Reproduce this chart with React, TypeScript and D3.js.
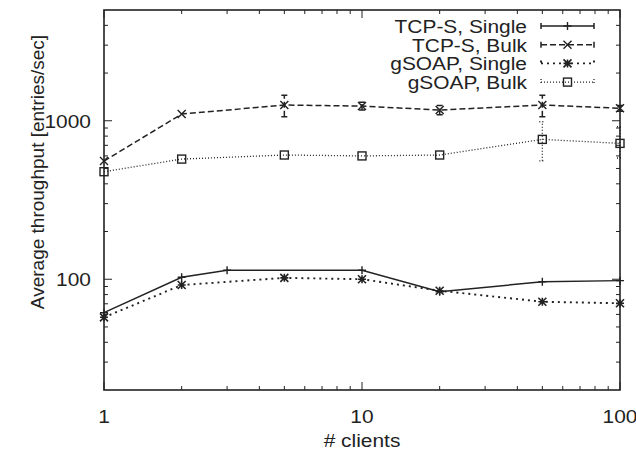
import * as d3 from "d3";

const W = 636;
const H = 453;

// data
const tcpSingle = [
  { x: 1, y: 61.5 }, { x: 2, y: 103 }, { x: 3, y: 114 }, { x: 10, y: 114 },
  { x: 20, y: 83.4 }, { x: 50, y: 96.4 }, { x: 100, y: 98 }
];
const tcpBulk = [
  { x: 1, y: 557 }, { x: 2, y: 1102 }, { x: 5, y: 1257 }, { x: 10, y: 1238 },
  { x: 20, y: 1168 }, { x: 50, y: 1257 }, { x: 100, y: 1198 }
];
const soapSingle = [
  { x: 1, y: 57.5 }, { x: 2, y: 91.9 }, { x: 5, y: 102 }, { x: 10, y: 100 },
  { x: 20, y: 84.6 }, { x: 50, y: 72.1 }, { x: 100, y: 70.5 }
];
const soapBulk = [
  { x: 1, y: 477 }, { x: 2, y: 573 }, { x: 5, y: 608 }, { x: 10, y: 600 },
  { x: 20, y: 608 }, { x: 50, y: 763 }, { x: 100, y: 720 }
];
// error bars [x, low, high]
const tcpBulkErr = [[5, 1060, 1450], [10, 1170, 1310], [20, 1090, 1250], [50, 1060, 1450], [100, 1150, 1250]];
const soapBulkErr = [[50, 559, 986], [100, 582, 917]];

const xTicks = [1, 10, 100];
const yTicks = [100, 1000];
const legendLabels = ["TCP-S, Single", "TCP-S, Bulk", "gSOAP, Single", "gSOAP, Bulk"];

const m = { left: 104, right: 620, top: 10, bottom: 390 };
const ink = "#222";
const font = "'Liberation Sans', Arial, sans-serif";
const fs = 19;

// text is slightly wider than tall in the reference
function Label({ x, y, anchor, children }: { x: number; y: number; anchor: string; children: any }) {
  return (
    <text transform={`translate(${x},${y}) scale(1.1,1)`} dy="0.36em" fontSize={fs} textAnchor={anchor} fill={ink}>
      {children}
    </text>
  );
}

function Marker({ kind, x, y }: { kind: string; x: number; y: number }) {
  const s = 4;
  if (kind === "plus")
    return <path d={`M${x - s},${y}H${x + s}M${x},${y - s}V${y + s}`} stroke={ink} strokeWidth={1.4} />;
  if (kind === "cross")
    return <path d={`M${x - s},${y - s}L${x + s},${y + s}M${x - s},${y + s}L${x + s},${y - s}`} stroke={ink} strokeWidth={1.4} />;
  if (kind === "star")
    return <path d={`M${x - s},${y}H${x + s}M${x},${y - s}V${y + s}M${x - s},${y - s}L${x + s},${y + s}M${x - s},${y + s}L${x + s},${y - s}`} stroke={ink} strokeWidth={1.6} />;
  return <rect x={x - 4} y={y - 4} width={8} height={8} fill="none" stroke={ink} strokeWidth={1.4} />;
}

export default function App() {
  const x = d3.scaleLog().domain([1, 100]).range([m.left, m.right]);
  const y = d3.scaleLog().domain([20, 5000]).range([m.bottom, m.top]);

  const line = d3.line<{ x: number; y: number }>().x(d => x(d.x)).y(d => y(d.y));

  const series = [
    { data: tcpSingle, dash: undefined, kind: "plus", err: [] as number[][], width: 1.5 },
    { data: tcpBulk, dash: "6,3", kind: "cross", err: tcpBulkErr, width: 1.5 },
    { data: soapSingle, dash: "2,4", kind: "star", err: [] as number[][], width: 1.9 },
    { data: soapBulk, dash: "1,2", kind: "square", err: soapBulkErr, width: 1.3 }
  ];

  const xMinor: number[] = [];
  for (let d = 1; d < 100; d *= 10) for (let k = 2; k <= 9; k++) xMinor.push(d * k);
  const yMinor: number[] = [];
  for (let d = 10; d <= 1000; d *= 10) for (let k = 2; k <= 9; k++) {
    const v = d * k;
    if (v > 20 && v < 5000) yMinor.push(v);
  }

  const legendX0 = 541;
  const legendX1 = 594;
  const legendY = (i: number) => 26 + i * 18.7;

  return (
    <svg width={W} height={H} style={{ position: "absolute", left: 0, top: 0, background: "#fff" }} fontFamily={font}>
      <rect width={W} height={H} fill="#fff" />
      {/* ticks */}
      {xTicks.map(t => (
        <g key={"xt" + t}>
          <line x1={x(t)} x2={x(t)} y1={m.bottom} y2={m.bottom - 8} stroke={ink} />
          <line x1={x(t)} x2={x(t)} y1={m.top} y2={m.top + 8} stroke={ink} />
          <Label x={x(t)} y={416} anchor="middle">{t}</Label>
        </g>
      ))}
      {xMinor.map(t => (
        <g key={"xm" + t}>
          <line x1={x(t)} x2={x(t)} y1={m.bottom} y2={m.bottom - 4} stroke={ink} />
          <line x1={x(t)} x2={x(t)} y1={m.top} y2={m.top + 4} stroke={ink} />
        </g>
      ))}
      {yTicks.map(t => (
        <g key={"yt" + t}>
          <line x1={m.left} x2={m.left + 8} y1={y(t)} y2={y(t)} stroke={ink} />
          <line x1={m.right} x2={m.right - 8} y1={y(t)} y2={y(t)} stroke={ink} />
          <Label x={91} y={y(t)} anchor="end">{t}</Label>
        </g>
      ))}
      {yMinor.map(t => (
        <g key={"ym" + t}>
          <line x1={m.left} x2={m.left + 4} y1={y(t)} y2={y(t)} stroke={ink} />
          <line x1={m.right} x2={m.right - 4} y1={y(t)} y2={y(t)} stroke={ink} />
        </g>
      ))}
      <rect x={m.left} y={m.top} width={m.right - m.left} height={m.bottom - m.top} fill="none" stroke={ink} strokeWidth={1.6} />

      {/* series */}
      {series.map((s, i) => (
        <g key={"s" + i}>
          <path d={line(s.data) || ""} fill="none" stroke={ink} strokeWidth={s.width} strokeDasharray={s.dash} />
          {s.err.map(([ex, lo, hi], j) => (
            <path key={j}
              d={`M${x(ex)},${y(lo)}V${y(hi)}M${x(ex) - 3},${y(lo)}H${x(ex) + 3}M${x(ex) - 3},${y(hi)}H${x(ex) + 3}`}
              fill="none" stroke={ink} strokeWidth={s.width} strokeDasharray={s.dash} />
          ))}
          {s.data.map((d, j) => <Marker key={j} kind={s.kind} x={x(d.x)} y={y(d.y)} />)}
        </g>
      ))}

      {/* legend */}
      {series.map((s, i) => (
        <g key={"l" + i}>
          <Label x={527} y={legendY(i)} anchor="end">{legendLabels[i]}</Label>
          <path d={`M${legendX0},${legendY(i)}H${legendX1}M${legendX0},${legendY(i) - 3}V${legendY(i) + 3}M${legendX1},${legendY(i) - 3}V${legendY(i) + 3}`}
            fill="none" stroke={ink} strokeWidth={s.width} strokeDasharray={s.dash} />
          <Marker kind={s.kind} x={(legendX0 + legendX1) / 2} y={legendY(i)} />
        </g>
      ))}

      <Label x={(m.left + m.right) / 2} y={440} anchor="middle"># clients</Label>
      <text transform={`translate(37,172) rotate(-90)`} dy="0.36em" fontSize={fs} textAnchor="middle" fill={ink}>
        Average throughput [entries/sec]
      </text>
    </svg>
  );
}
